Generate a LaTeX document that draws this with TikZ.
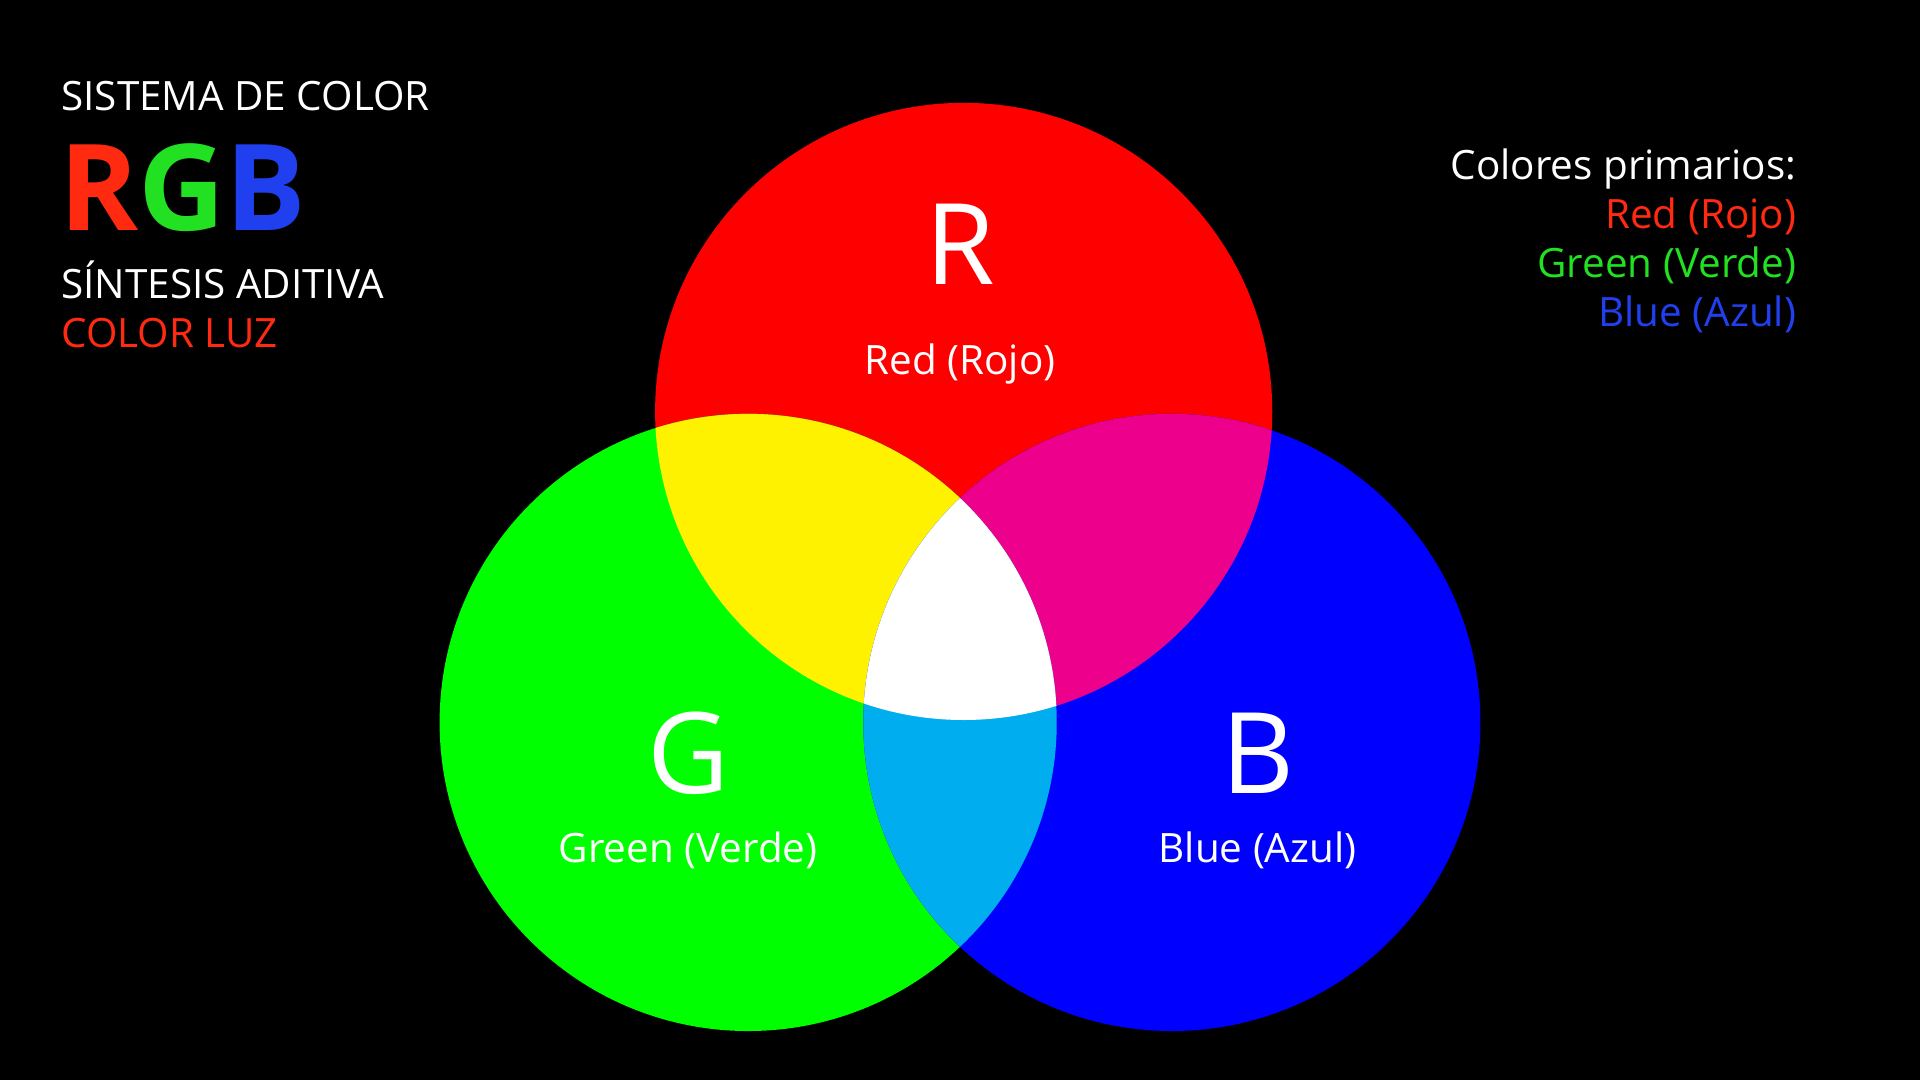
\documentclass[tikz,border=0pt]{standalone}
\usepackage{fontspec}
\setmainfont{Open Sans}
\definecolor{tred}{HTML}{FF2A10}
\definecolor{tgreen}{HTML}{22E022}
\definecolor{tblue}{HTML}{2040F0}
\begin{document}
\begin{tikzpicture}[x=1pt,y=-1pt,
  txt/.style={text=white,inner sep=0pt,font=\fontsize{33}{40}\selectfont},
  big/.style={text=white,inner sep=0pt,font=\fontsize{92}{100}\selectfont,anchor=base}]
\fill[black] (0,0) rectangle (1568,882);
\useasboundingbox (0,0) rectangle (1568,882);
\def\cr{(787,336) circle (252)}
\def\cg{(611,590) circle (252)}
\def\cb{(957,590) circle (252)}
\fill[red] \cr; \fill[green] \cg; \fill[blue] \cb;
\begin{scope}\clip \cr; \fill[yellow] \cg; \fill[magenta] \cb;\end{scope}
\begin{scope}\clip \cg; \fill[cyan] \cb;\end{scope}
\begin{scope}\clip \cr; \clip \cg; \fill[white] \cb;\end{scope}
\node[txt,anchor=base west] (t1) at (50,90) {SISTEMA DE COLOR};
\node[inner sep=0pt,anchor=base west,font=\fontsize{98}{100}\selectfont\bfseries] (t2) at (48,188) {\textcolor{tred}{R}\textcolor{tgreen}{G}\textcolor{tblue}{B}};
\node[txt,anchor=base west] (t3) at (50,244) {SÍNTESIS ADITIVA};
\node[txt,anchor=base west,text=tred] (t4) at (50,284) {COLOR LUZ};
\node[txt,anchor=base east] (p0) at (1467,147) {Colores primarios:};
\node[txt,anchor=base east,text=tred] (p1) at (1467,187) {Red (Rojo)};
\node[txt,anchor=base east,text=tgreen] (p2) at (1467,227) {Green (Verde)};
\node[txt,anchor=base east,text=tblue] (p3) at (1467,267) {Blue (Azul)};
\node[big] (R) at (784,232) {R};
\node[txt,anchor=base] (Rl) at (784,306) {Red (Rojo)};
\node[big] (G) at (562,648) {G};
\node[txt,anchor=base] (Gl) at (562,704) {Green (Verde)};
\node[big] (B) at (1027,648) {B};
\node[txt,anchor=base] (Bl) at (1027,704) {Blue (Azul)};
\end{tikzpicture}
\end{document}
